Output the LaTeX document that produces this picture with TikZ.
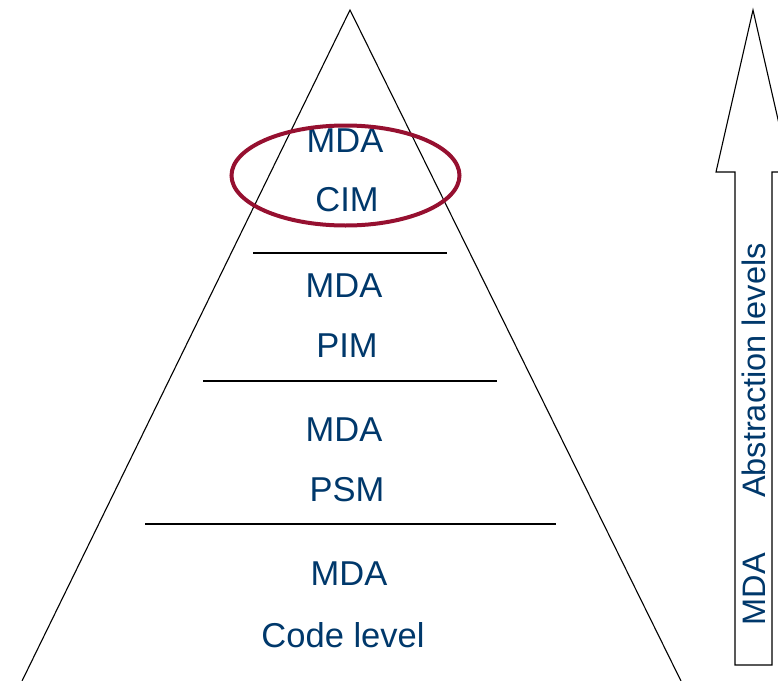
\documentclass[tikz,border=0pt]{standalone}
\usepackage{fontspec}
\setmainfont{Liberation Sans}
\usetikzlibrary{shapes.geometric}
\definecolor{txtblue}{RGB}{0,56,107}
\definecolor{ovalred}{RGB}{150,16,48}
\tikzset{
  lbl/.style={text=txtblue,font=\fontsize{34.5}{40}\selectfont,inner sep=0pt,anchor=center},
  vlbl/.style={text=txtblue,font=\fontsize{32.5}{38}\selectfont,inner sep=0pt,anchor=center,rotate=90},
  edge/.style={draw=black,line width=1.1pt},
}
\begin{document}
\begin{tikzpicture}[x=1pt,y=-1pt]
\useasboundingbox (0,0) rectangle (778,680);
\clip (0,0) rectangle (778,680);
% pyramid
\coordinate (apex) at (350,10);
\coordinate (bl) at (22,681);
\coordinate (br) at (681,681);
\draw[edge] (bl) -- (apex) -- (br);
% separators
\draw[edge] (253,253) -- (447,253);
\draw[edge] (203,381) -- (497,381);
\draw[edge] (145,524) -- (556,524);
% labels
\node[lbl] (m1) at (345,141) {MDA};
\node[lbl] (cim) at (347,200) {CIM};
\node[lbl] (m2) at (344,286) {MDA};
\node[lbl] (pim) at (347,346) {PIM};
\node[lbl] (m3) at (344,430) {MDA};
\node[lbl] (psm) at (347,490) {PSM};
\node[lbl] (m4) at (349,574) {MDA};
\node[lbl] (code) at (343,635) {Code level};
% oval
\draw[ovalred,line width=4pt] (345.5,175.5) ellipse [x radius=114,y radius=50];
% arrow
\draw[edge,fill=white] (735,665) -- (735,172) -- (716,172) -- (753,10) -- (790,172) -- (772,172) -- (772,665) -- cycle;
\node[vlbl] (absm) at (754,589) {MDA};
\node[vlbl] (abs) at (754,370.5) {Abstraction levels};
\end{tikzpicture}
\end{document}
